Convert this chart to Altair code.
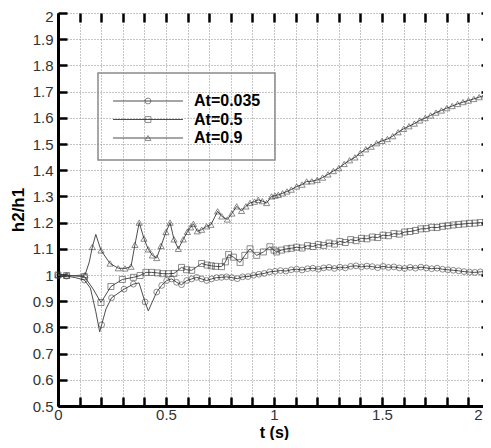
import altair as alt
import pandas as pd

# ---------------- data ----------------
series_names = ["At=0.035", "At=0.5", "At=0.9"]
shapes = ["circle", "square", "triangle-up"]

# At=0.035 (circles) : marked points
t_c = [0.0, 0.04, 0.122, 0.202, 0.248, 0.306, 0.349, 0.403, 0.457, 0.48, 0.503, 0.526,
       0.549, 0.572, 0.596, 0.619, 0.642, 0.665, 0.688, 0.711, 0.734, 0.757, 0.78,
       0.805, 0.83, 0.855, 0.88, 0.905, 0.93, 0.955, 0.98, 1.005, 1.03, 1.055, 1.08,
       1.105, 1.13, 1.155, 1.18, 1.205, 1.23, 1.255, 1.28, 1.305, 1.33, 1.355, 1.38,
       1.405, 1.43, 1.455, 1.48, 1.505, 1.53, 1.555, 1.58, 1.605, 1.63, 1.655, 1.68,
       1.705, 1.73, 1.755, 1.78, 1.805, 1.83, 1.855, 1.88, 1.905, 1.93, 1.955, 1.98, 2.0]
v_c = [1.0, 0.996, 0.981, 0.81, 0.913, 0.946, 0.965, 0.897, 0.935, 0.96, 0.979, 0.985,
       0.972, 0.963, 0.979, 0.985, 0.991, 0.985, 0.979, 0.985, 0.99, 0.991, 0.993,
       0.990, 0.986, 0.993, 0.994, 0.999, 1.003, 1.006, 1.012, 1.014, 1.017, 1.015, 1.020,
       1.022, 1.019, 1.024, 1.026, 1.022, 1.027, 1.029, 1.025, 1.030, 1.027, 1.033, 1.035,
       1.031, 1.034, 1.032, 1.028, 1.033, 1.029, 1.031, 1.027, 1.025, 1.029, 1.026, 1.030,
       1.027, 1.024, 1.026, 1.022, 1.020, 1.018, 1.016, 1.013, 1.011, 1.010, 1.012, 1.013, 1.012]
# line-only vertices (no marker)
t_c_line = [0.08, 0.15, 0.175, 0.193, 0.222, 0.375, 0.418]
v_c_line = [0.99, 0.95, 0.86, 0.783, 0.87, 0.97, 0.863]

# At=0.5 (squares)
t_s = [0.0, 0.04, 0.122, 0.199, 0.245, 0.298, 0.349, 0.38, 0.407, 0.434, 0.46, 0.485,
       0.511, 0.537, 0.572, 0.595, 0.619, 0.665, 0.69, 0.71, 0.73, 0.757, 0.775, 0.79,
       0.812, 0.843, 0.865, 0.889, 0.92, 0.951, 0.981, 1.0, 1.012, 1.035, 1.059, 1.08,
       1.105, 1.13, 1.155, 1.18, 1.205, 1.23, 1.255, 1.28, 1.305, 1.33, 1.355, 1.38,
       1.405, 1.43, 1.455, 1.48, 1.505, 1.53, 1.555, 1.58, 1.605, 1.63, 1.655, 1.68,
       1.705, 1.73, 1.755, 1.78, 1.805, 1.83, 1.855, 1.88, 1.905, 1.93, 1.955, 1.98, 2.0]
v_s = [1.0, 0.998, 0.994, 0.895, 0.956, 0.983, 0.991, 0.998, 1.01, 1.01, 1.008, 1.005,
       1.005, 1.006, 1.029, 1.02, 1.018, 1.044, 1.038, 1.035, 1.033, 1.032, 1.05, 1.078,
       1.068, 1.048, 1.075, 1.1, 1.075, 1.088, 1.108, 1.095, 1.088, 1.095, 1.1, 1.102,
       1.106, 1.103, 1.112, 1.109, 1.116, 1.113, 1.122, 1.118, 1.128, 1.124, 1.135, 1.131,
       1.140, 1.138, 1.145, 1.143, 1.152, 1.150, 1.158, 1.156, 1.164, 1.166, 1.170, 1.176,
       1.177, 1.182, 1.181, 1.186, 1.188, 1.191, 1.193, 1.195, 1.197, 1.198, 1.200, 1.201, 1.200]
t_s_line = [0.08, 0.16]
v_s_line = [0.996, 0.95]

# At=0.9 (triangles)
t_t = [0.0, 0.04, 0.125, 0.159, 0.199, 0.241, 0.279, 0.31, 0.338, 0.356, 0.376, 0.398,
       0.418, 0.437, 0.457, 0.477, 0.5, 0.519, 0.537, 0.557, 0.58, 0.599, 0.614, 0.627,
       0.645, 0.665, 0.688, 0.708, 0.739, 0.758, 0.784, 0.805, 0.827, 0.85, 0.87, 0.889,
       0.91, 0.927, 0.946, 0.966, 0.989, 1.005, 1.02, 1.04, 1.06, 1.08, 1.105, 1.13,
       1.151, 1.175, 1.2, 1.225, 1.25, 1.275, 1.3, 1.325, 1.35, 1.375, 1.4, 1.425, 1.45,
       1.475, 1.5, 1.525, 1.55, 1.575, 1.6, 1.625, 1.65, 1.675, 1.7, 1.725, 1.75, 1.775,
       1.8, 1.825, 1.85, 1.875, 1.9, 1.925, 1.95, 1.975, 2.0]
v_t = [1.0, 0.998, 1.0, 1.107, 1.094, 1.044, 1.026, 1.025, 1.032, 1.115, 1.2, 1.139,
       1.098, 1.075, 1.065, 1.111, 1.164, 1.2, 1.136, 1.1, 1.136, 1.165, 1.182, 1.195,
       1.167, 1.173, 1.186, 1.192, 1.243, 1.224, 1.212, 1.235, 1.262, 1.245, 1.262, 1.275,
       1.28, 1.287, 1.282, 1.275, 1.3, 1.303, 1.306, 1.312, 1.319, 1.326, 1.338, 1.345,
       1.357, 1.358, 1.363, 1.372, 1.384, 1.397, 1.408, 1.424, 1.438, 1.449, 1.466, 1.480, 1.490,
       1.503, 1.512, 1.519, 1.530, 1.545, 1.558, 1.568, 1.578, 1.590, 1.599, 1.609, 1.620, 1.628,
       1.637, 1.645, 1.653, 1.660, 1.666, 1.672, 1.679, 1.686, 1.692]
t_t_line = [0.08, 0.145, 0.175]
v_t_line = [0.998, 1.05, 1.155]

x_ticks = [0.0, 0.1, 0.2, 0.3, 0.4, 0.5, 0.6, 0.7, 0.8, 0.9, 1.0, 1.1, 1.2, 1.3, 1.4,
           1.5, 1.6, 1.7, 1.8, 1.9, 2.0]
x_labels = [0.0, 0.5, 1.0, 1.5, 2.0]
y_ticks = [0.5, 0.6, 0.7, 0.8, 0.9, 1.0, 1.1, 1.2, 1.3, 1.4, 1.5, 1.6, 1.7, 1.8, 1.9, 2.0]

# ---------------- tables ----------------
marks = [(t_c, v_c, t_c_line, v_c_line), (t_s, v_s, t_s_line, v_s_line), (t_t, v_t, t_t_line, v_t_line)]
pt_frames, ln_frames = [], []
for name, (tm, vm, tl, vl) in zip(series_names, marks):
    pt_frames.append(pd.DataFrame({"t": tm, "v": vm, "series": name}))
    ln_frames.append(pd.DataFrame({"t": tm + tl, "v": vm + vl, "series": name}))
points_df = pd.concat(pt_frames, ignore_index=True)
lines_df = pd.concat(ln_frames, ignore_index=True).sort_values(["series", "t"])

W, H = 432, 393
FONT = "Liberation Sans"
xs = alt.Scale(domain=[0, 2], nice=False, zero=False)
ys = alt.Scale(domain=[0.5, 2], nice=False, zero=False)

GRID = dict(grid=True, gridDash=[1, 2], gridColor="#8c8c8c", gridWidth=1)

x_main = alt.Axis(values=x_labels, format="~g", grid=False,
                  tickSize=0, domainColor="black", domainWidth=3,
                  labelFont=FONT, labelFontSize=15, labelColor="#333333", labelPadding=1,
                  labelFlush=False, labelOverlap=False, labelBound=False,
                  labelAlign={"condition": {"test": "datum.value >= 2", "value": "right"}, "value": "center"},
                  labelOffset={"condition": {"test": "datum.value >= 2", "value": -8}, "value": 0},
                  title="t (s)", titleFont=FONT, titleFontSize=16, titleFontWeight="bold",
                  titleColor="black", titleY=31, titleBaseline="alphabetic")
y_main = alt.Axis(values=y_ticks, format="~g", grid=True, gridDash=[1, 2], gridColor="#8c8c8c",
                  gridWidth=1, tickSize=0, domainColor="black", domainWidth=3,
                  labelFont=FONT, labelFontSize=15, labelColor="#333333", labelPadding=5,
                  labelOverlap=False, labelBound=False, labelFlush=False,
                  labelOffset={"condition": {"test": "datum.value >= 2", "value": 3}, "value": 0},
                  title="h2/h1", titleFont=FONT, titleFontSize=17, titleFontWeight="bold",
                  titleColor="black", titleX=-40, titleY=H / 2, titleBaseline="middle")

lines = alt.Chart(lines_df).mark_line(color="#4d4d4d", strokeWidth=1).encode(
    x=alt.X("t:Q", scale=xs, axis=x_main),
    y=alt.Y("v:Q", scale=ys, axis=y_main),
    detail="series:N",
    order="t:Q",
)
pts = alt.Chart(points_df).mark_point(filled=False, strokeWidth=0.8, color="#333333").encode(
    x=alt.X("t:Q", scale=xs, axis=x_main),
    y=alt.Y("v:Q", scale=ys, axis=y_main),
    shape=alt.Shape("series:N", scale=alt.Scale(domain=series_names, range=shapes), legend=None),
    size=alt.Size("series:N", scale=alt.Scale(domain=series_names, range=[34, 38, 38]), legend=None),
)
data_layer = alt.layer(lines, pts)


def tick_axis(orient, off, grid=False):
    return alt.Axis(orient=orient, offset=off, values=(x_ticks if orient in ("top", "bottom") else y_ticks),
                    labels=False, domain=False, tickSize=9, tickWidth=2.5,
                    tickColor="black", title=None,
                    **(GRID if grid else dict(grid=False)))


ticks_a = alt.Chart(points_df).mark_point(opacity=0).encode(
    x=alt.X("t:Q", scale=xs, axis=tick_axis("top", -H, grid=True)),
    y=alt.Y("v:Q", scale=ys, axis=tick_axis("right", -W)),
)
ticks_b = alt.Chart(points_df).mark_point(opacity=0).encode(
    x=alt.X("t:Q", scale=xs, axis=tick_axis("bottom", -H)),
    y=alt.Y("v:Q", scale=ys, axis=tick_axis("left", -W)),
)

# ---------------- legend box ----------------
one = pd.DataFrame({"a": [0]})
legend_layers = [
    alt.Chart(one).mark_rect(filled=False, stroke="#8a8a8a", strokeWidth=1.5).encode(
        x=alt.value(40), x2=alt.value(217), y=alt.value(60), y2=alt.value(147))
]
for i, (name, shp) in enumerate(zip(series_names, shapes)):
    yy = 88 + i * 18.5
    legend_layers.append(alt.Chart(one).mark_rule(color="#4d4d4d", strokeWidth=1).encode(
        x=alt.value(55), x2=alt.value(125), y=alt.value(yy)))
    legend_layers.append(alt.Chart(one).mark_point(filled=False, size=34, strokeWidth=0.8,
                                                  color="#333333", shape=shp).encode(
        x=alt.value(90), y=alt.value(yy)))
    legend_layers.append(alt.Chart(one).mark_text(text=name, align="left", baseline="middle",
                                                 font=FONT, fontSize=16, fontWeight="bold",
                                                 color="black").encode(
        x=alt.value(136), y=alt.value(yy)))

chart = alt.layer(data_layer, ticks_a, ticks_b, *legend_layers).resolve_scale(
    x="independent", y="independent", size="independent", shape="independent"
).properties(
    width=W, height=H,
    padding={"left": 50, "top": 5, "right": -7, "bottom": 34},
    autosize=alt.AutoSizeParams(type="none"),
).configure_view(strokeWidth=0)

chart.save("out.html", embed_options={"renderer": "svg", "actions": False})
